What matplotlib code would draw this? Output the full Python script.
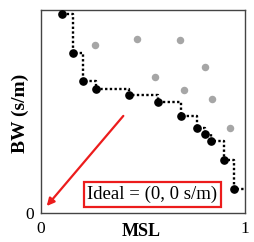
import matplotlib
matplotlib.use("Agg")
import matplotlib.pyplot as plt

plt.rcParams['font.family'] = ['Liberation Serif', 'DejaVu Serif']

# Pareto front (black) points
pareto_msl = [0.106, 0.157, 0.206, 0.271, 0.431, 0.576, 0.687, 0.767, 0.803, 0.832, 0.896, 0.948]
pareto_bw = [0.980, 0.787, 0.652, 0.609, 0.581, 0.545, 0.478, 0.420, 0.388, 0.355, 0.261, 0.120]

# Dominated (gray) points
other_msl = [0.266, 0.470, 0.683, 0.803, 0.558, 0.700, 0.840, 0.925]
other_bw = [0.828, 0.856, 0.851, 0.718, 0.668, 0.604, 0.560, 0.420]

xticks = [0, 1]
xtick_labels = ["0", "1"]
yticks = [0]
ytick_labels = ["0"]

fig = plt.figure(figsize=(2.55, 2.42), dpi=100)
ax = fig.add_axes([0.160, 0.120, 0.801, 0.839])

# staircase line
step_x = pareto_msl + [1.0]
step_y = pareto_bw + [pareto_bw[-1]]
ax.plot(step_x, step_y, drawstyle='steps-post', color='black', linestyle=(0, (1, 1)),
        linewidth=1.7, zorder=2)
ax.plot(pareto_msl, pareto_bw, 'o', color='black', markersize=5.2, zorder=3)
ax.plot(other_msl, other_bw, 'o', color='#a6a6a6', markersize=5.4, markeredgewidth=0, zorder=3)

# arrow towards ideal
ax.annotate('', xy=(0.029, 0.034), xytext=(0.404, 0.478),
            arrowprops=dict(arrowstyle='-|>', color='#ec1c1c', lw=1.6,
                            mutation_scale=11, shrinkA=0, shrinkB=0))

ax.text(0.545, 0.091, 'Ideal = (0, 0 s/m)', transform=ax.transAxes, ha='center', va='center',
        fontsize=13.5,
        bbox=dict(boxstyle='square,pad=0.18', facecolor='white', edgecolor='#ec1c1c', linewidth=1.6))

ax.set_xlim(0, 1)
ax.set_ylim(0, 1)
ax.set_xticks(xticks)
ax.set_xticklabels(xtick_labels)
ax.set_yticks(yticks)
ax.set_yticklabels(ytick_labels)
ax.tick_params(length=0, labelsize=12.5)
ax.tick_params(axis='x', pad=6)
ax.tick_params(axis='y', pad=5)
for s in ax.spines.values():
    s.set_color('#444444')
    s.set_linewidth(1.0)

ax.set_xlabel('MSL', fontsize=13, fontweight='bold')
ax.xaxis.set_label_coords(0.49, -0.05)
ax.set_ylabel('BW (s/m)', fontsize=14, fontweight='bold', va='center')
ax.yaxis.set_label_coords(-0.10, 0.49)

fig.savefig('out.png', dpi=100)
